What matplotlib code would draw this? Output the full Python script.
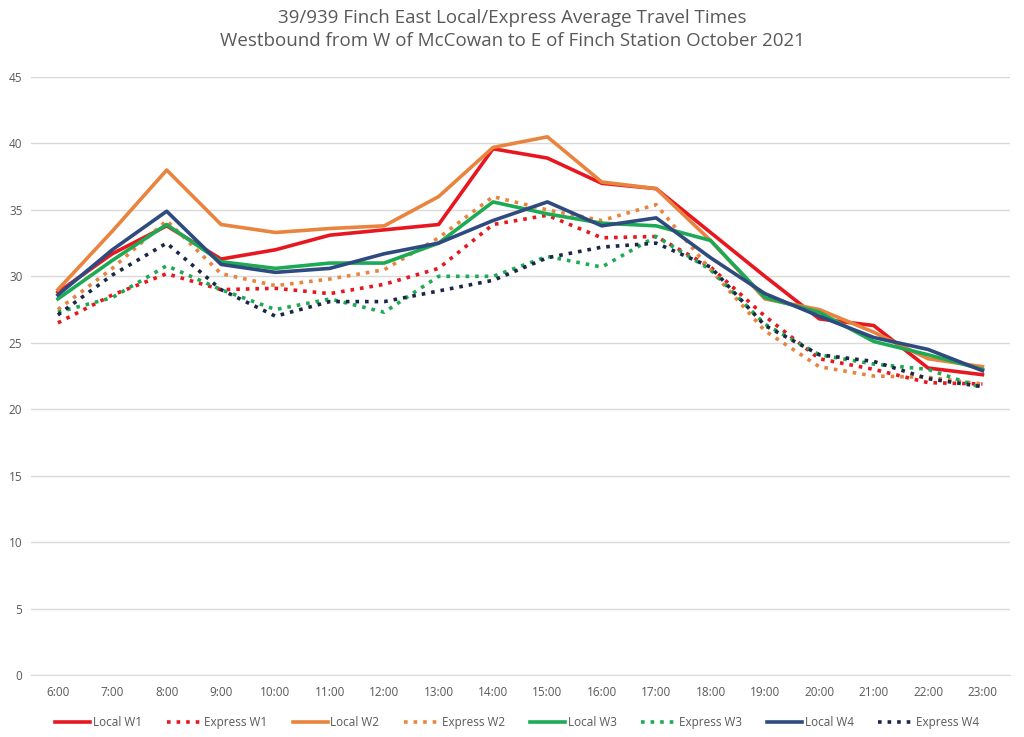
import numpy as np
import matplotlib
matplotlib.use('Agg')
import matplotlib.pyplot as plt

hours = ['6:00', '7:00', '8:00', '9:00', '10:00', '11:00', '12:00', '13:00', '14:00',
         '15:00', '16:00', '17:00', '18:00', '19:00', '20:00', '21:00', '22:00', '23:00']

local_w1 = [28.8, 31.7, 33.8, 31.3, 32.0, 33.1, 33.5, 33.9, 39.6, 38.9, 37.0, 36.6, 33.3, 30.0, 26.8, 26.3, 23.1, 22.6]
express_w1 = [26.5, 28.6, 30.2, 29.0, 29.1, 28.7, 29.4, 30.6, 33.9, 34.6, 32.9, 33.0, 30.7, 27.0, 23.8, 23.0, 22.0, 21.9]
local_w2 = [29.0, 33.4, 38.0, 33.9, 33.3, 33.6, 33.8, 36.0, 39.7, 40.5, 37.1, 36.6, 32.7, 28.3, 27.5, 25.8, 23.8, 23.2]
express_w2 = [27.5, 30.6, 34.2, 30.2, 29.3, 29.8, 30.5, 32.9, 36.0, 35.0, 34.2, 35.4, 30.5, 25.9, 23.2, 22.5, 22.4, 21.9]
local_w3 = [28.3, 31.2, 33.9, 31.1, 30.6, 31.0, 31.0, 32.5, 35.6, 34.7, 34.0, 33.8, 32.7, 28.4, 27.3, 25.1, 24.1, 23.0]
express_w3 = [27.3, 28.4, 30.8, 29.0, 27.5, 28.3, 27.3, 30.0, 30.0, 31.5, 30.7, 33.0, 30.5, 26.4, 24.1, 23.4, 23.0, 21.6]
local_w4 = [28.6, 32.0, 34.9, 30.9, 30.3, 30.6, 31.7, 32.5, 34.2, 35.6, 33.8, 34.4, 31.4, 28.7, 27.0, 25.4, 24.5, 22.9]
express_w4 = [27.1, 30.1, 32.5, 29.0, 27.0, 28.1, 28.1, 28.9, 29.7, 31.4, 32.2, 32.5, 30.7, 26.3, 24.1, 23.6, 22.3, 21.7]

red = '#E8171F'
orange = '#E9843E'
green = '#1DAA55'
blue = '#2E4A7E'
navy = '#1B2745'

plt.rcParams['font.family'] = ['Open Sans', 'DejaVu Sans']

fig = plt.figure(figsize=(10.24, 7.37), dpi=100)
ax = fig.add_axes([0.030, 0.0841, 0.956, 0.8114])

x = np.arange(len(hours))
series = [
    ('Local W1', local_w1, red, '-'),
    ('Express W1', express_w1, red, ':'),
    ('Local W2', local_w2, orange, '-'),
    ('Express W2', express_w2, orange, ':'),
    ('Local W3', local_w3, green, '-'),
    ('Express W3', express_w3, green, ':'),
    ('Local W4', local_w4, blue, '-'),
    ('Express W4', express_w4, navy, ':'),
]
for name, vals, col, ls in series:
    ax.plot(x, vals, color=col, linestyle=ls, linewidth=2.6, label=name)

ax.set_xlim(-0.5, len(hours) - 0.5)
ax.set_ylim(0, 45)
ax.set_yticks(np.arange(0, 46, 5))
ax.set_xticks(x)
ax.set_xticklabels(hours)
ax.grid(axis='y', color='#D9D9D9', linewidth=1)
ax.set_axisbelow(True)
for s in ['top', 'right', 'left']:
    ax.spines[s].set_visible(False)
ax.spines['bottom'].set_color('#D9D9D9')
ax.tick_params(axis='both', length=0, labelsize=8.5, colors='#595959')
ax.tick_params(axis='x', pad=8)
ax.tick_params(axis='y', pad=6)

fig.suptitle('39/939 Finch East Local/Express Average Travel Times\n'
             'Westbound from W of McCowan to E of Finch Station October 2021',
             y=0.988, fontsize=13.5, color='#595959', linespacing=1.35)

fig.legend(loc='center', bbox_to_anchor=(0.505, 0.02), ncol=8, frameon=False,
           fontsize=8.5, labelcolor='#595959', handlelength=3.0, columnspacing=2.1,
           handletextpad=0.2)

fig.savefig('out.png', dpi=100)
